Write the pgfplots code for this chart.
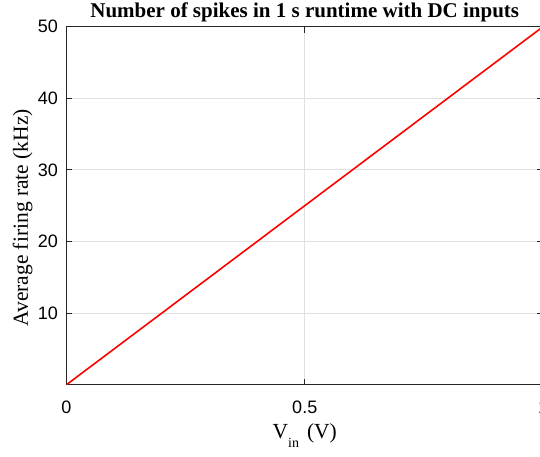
\documentclass[border=0pt]{standalone}
\usepackage{fontspec}
\setmainfont{Liberation Serif}
\newfontfamily\helv{Liberation Sans}
\usepackage{pgfplots}
\pgfplotsset{compat=1.18}
\definecolor{axgray}{gray}{0.15}
\definecolor{gridgray}{gray}{0.88}

\begin{document}
\begin{tikzpicture}
\begin{axis}[
    scale only axis,
    width=476.5pt, height=358pt,
    xmin=0, xmax=1, ymin=0, ymax=50,
    xtick={0,0.5,1}, ytick={10,20,30,40,50},
    xticklabels={0,0.5,1},
    grid=major,
    major grid style={gridgray, line width=0.8pt},
    axis line style={axgray, line width=0.9pt},
    tick style={axgray, line width=0.9pt},
    tick align=inside, major tick length=6pt,
    /pgf/number format/assume math mode=true,
    ticklabel style={font=\helv\fontsize{18}{18}\selectfont, inner sep=0pt},
    xticklabel style={anchor=base, yshift=-29pt},
    yticklabel style={anchor=east, xshift=-8.5pt},
    title={\bfseries Number of spikes in 1 s runtime with DC inputs},
    title style={font=\fontsize{21}{22}\selectfont, at={(axis description cs:0.5,1)}, anchor=base, yshift=3pt, inner sep=0pt},
    xlabel={V\raisebox{-9pt}{\fontsize{14}{14}\selectfont in}\hspace{8pt}(V)},
    xlabel style={font=\fontsize{21.5}{22}\selectfont, at={(axis description cs:0.5,0)}, anchor=base, yshift=-54pt, inner sep=0pt},
    ylabel={Average firing rate (kHz)},
    ylabel style={font=\fontsize{21.5}{22}\selectfont, at={(axis description cs:-0.0808,0.466)}, anchor=base, inner sep=0pt},
]
\addplot[red, line width=1.6pt] coordinates {(0,0) (0.25,12.5) (0.5,25) (0.75,37.5) (1,50)};
\coordinate (bl) at (rel axis cs:0,0);
\coordinate (tr) at (rel axis cs:1,1);
\end{axis}
\pgfresetboundingbox
\path[use as bounding box] ([xshift=-66.5pt,yshift=-72.3pt]bl) rectangle ([xshift=-3pt,yshift=26.7pt]tr);
\end{tikzpicture}
\end{document}
